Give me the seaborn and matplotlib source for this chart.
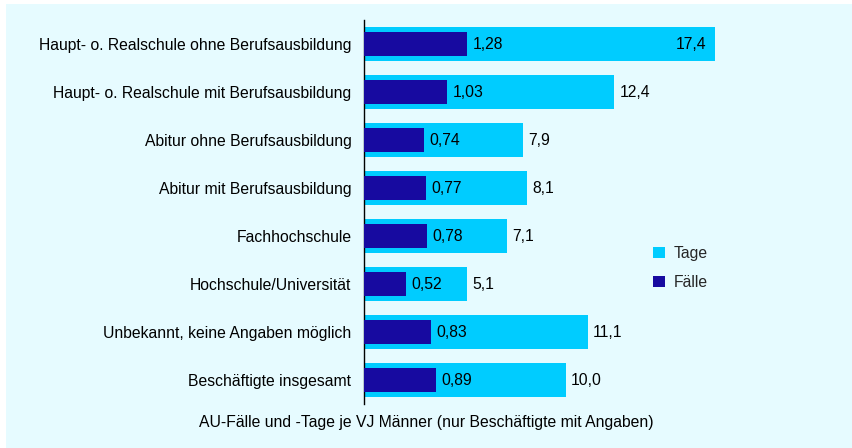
import matplotlib
matplotlib.use("Agg")
import matplotlib.pyplot as plt
from matplotlib.patches import Rectangle, Patch
import seaborn as sns
import pandas as pd

categories = [
    "Haupt- o. Realschule ohne Berufsausbildung",
    "Haupt- o. Realschule mit Berufsausbildung",
    "Abitur ohne Berufsausbildung",
    "Abitur mit Berufsausbildung",
    "Fachhochschule",
    "Hochschule/Universität",
    "Unbekannt, keine Angaben möglich",
    "Beschäftigte insgesamt",
]
tage = [17.4, 12.4, 7.9, 8.1, 7.1, 5.1, 11.1, 10.0]
faelle = [1.28, 1.03, 0.74, 0.77, 0.78, 0.52, 0.83, 0.89]

x_label = "AU-Fälle und -Tage je VJ Männer (nur Beschäftigte mit Angaben)"

BG = "#E6FBFF"
C_TAGE = "#00CCFF"
C_FAELLE = "#170AA0"

sns.set_theme(style="white")
plt.rcParams["font.family"] = ["Liberation Sans", "DejaVu Sans"]
FS = 11.3

df = pd.DataFrame({"Kategorie": categories, "Tage": tage, "Fälle": faelle})

fig = plt.figure(figsize=(8.52, 4.48), dpi=100)
fig.patch.set_facecolor("white")
fig.patches.append(Rectangle((6 / 852, 0), 1, 1 - 4 / 448, transform=fig.transFigure,
                             facecolor=BG, edgecolor="none", zorder=-10))

ax = fig.add_axes([364 / 852, 1 - 404 / 448, (767 - 364) / 852, 384 / 448])
ax.set_facecolor("none")
sns.barplot(data=df, x="Tage", y="Kategorie", ax=ax, color=C_TAGE,
            width=0.71, saturation=1, orient="h", linewidth=0, edgecolor="none")
ax.set_xlim(0, 20)

ax2 = ax.twiny()
sns.barplot(data=df, x="Fälle", y="Kategorie", ax=ax2, color=C_FAELLE,
            width=0.48, saturation=1, orient="h", linewidth=0, edgecolor="none")
ax2.set_xlim(0, 5)

for a in (ax, ax2):
    for side in ("top", "right", "bottom"):
        a.spines[side].set_visible(False)
    a.set_xticks([])
    a.set_xlabel("")
    a.set_ylabel("")
ax.spines["left"].set_color("black")
ax.spines["left"].set_linewidth(1.0)
ax2.spines["left"].set_visible(False)
ax.tick_params(axis="y", length=0, pad=9, labelsize=FS, labelcolor="black")
ax2.tick_params(axis="y", length=0)

def fmt(v, nd):
    return f"{v:.{nd}f}".replace(".", ",")

for i, (t, f) in enumerate(zip(tage, faelle)):
    ax2.annotate(fmt(f, 2), (f, i), xytext=(4, 0), textcoords="offset points",
                 ha="left", va="center", fontsize=FS, color="black")
    if t >= 15:
        ax.annotate(fmt(t, 1), (t, i), xytext=(-6, 0), textcoords="offset points",
                    ha="right", va="center", fontsize=FS, color="black")
    else:
        ax.annotate(fmt(t, 1), (t, i), xytext=(4, 0), textcoords="offset points",
                    ha="left", va="center", fontsize=FS, color="black")

fig.text(0.5, 1 - 422 / 448, x_label, ha="center", va="center", fontsize=FS, color="black")

handles = [Patch(facecolor=C_TAGE, edgecolor="none", label="Tage"),
           Patch(facecolor=C_FAELLE, edgecolor="none", label="Fälle")]
fig.legend(handles=handles, loc="center left", bbox_to_anchor=(639 / 852, 1 - 268 / 448),
           frameon=False, fontsize=FS, handlelength=0.75, handleheight=0.75,
           handletextpad=0.55, labelspacing=0.9)

fig.savefig("out.png", dpi=100, facecolor=fig.get_facecolor())
